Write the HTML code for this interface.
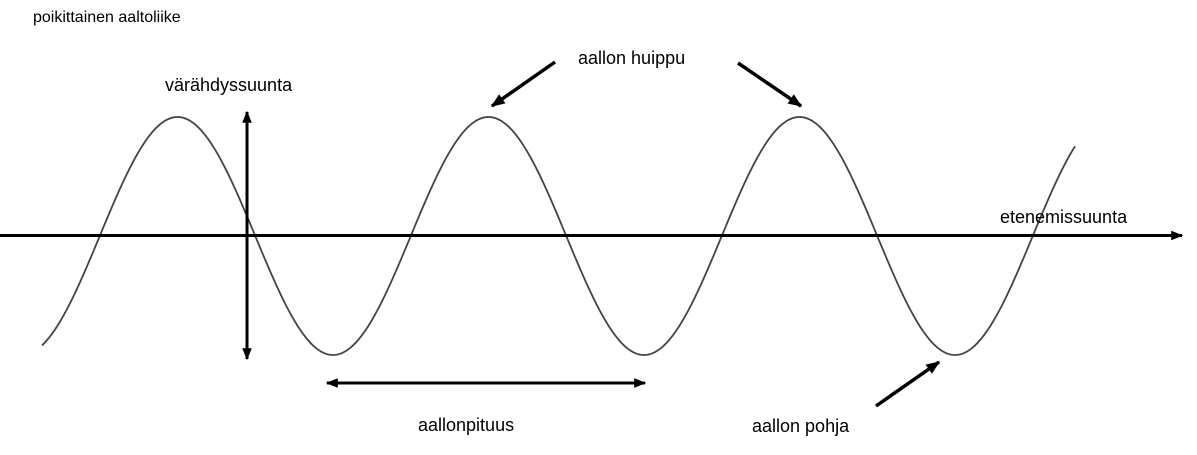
<!DOCTYPE html>
<html><head><meta charset="utf-8"><style>
html,body{margin:0;padding:0;background:#fff;}
svg{display:block}
text{font-family:"Liberation Sans",Arial,sans-serif;fill:#000}
</style></head><body>
<svg id="s" width="1197" height="455" viewBox="0 0 1197 455" xmlns="http://www.w3.org/2000/svg">
<defs>
<marker id="a" viewBox="0 0 10 10" refX="9" refY="5" markerWidth="4" markerHeight="4" orient="auto-start-reverse" markerUnits="strokeWidth"><path d="M0,1 L10,5 L0,9 z" fill="#000"/></marker>
</defs>
<path id="wave" fill="none" stroke="#444" stroke-width="1.8" d=""/>
<line x1="0" y1="235.5" x2="1182" y2="235.5" stroke="#000" stroke-width="3" marker-end="url(#a)"/>
<line x1="247" y1="112" x2="247" y2="359" stroke="#000" stroke-width="3" marker-start="url(#a)" marker-end="url(#a)"/>
<line x1="327" y1="383" x2="645" y2="383" stroke="#000" stroke-width="3" marker-start="url(#a)" marker-end="url(#a)"/>
<line x1="555" y1="62" x2="492" y2="106" stroke="#000" stroke-width="3.5" marker-end="url(#a)"/>
<line x1="738" y1="63" x2="801" y2="106" stroke="#000" stroke-width="3.5" marker-end="url(#a)"/>
<line x1="876" y1="406" x2="939" y2="362" stroke="#000" stroke-width="3.5" marker-end="url(#a)"/>
<text x="33" y="22" font-size="16">poikittainen aaltoliike</text>
<text x="165" y="91" font-size="18">värähdyssuunta</text>
<text x="578" y="64" font-size="18">aallon huippu</text>
<text x="1000" y="223" font-size="18">etenemissuunta</text>
<text x="418" y="431" font-size="18">aallonpituus</text>
<text x="752" y="432" font-size="18">aallon pohja</text>
</svg>
<script>
var d="";for(var x=42;x<=1075;x+=1){var y=236-119*Math.cos(2*Math.PI*(x-177.5)/311);d+=(x==42?"M":"L")+x+","+y.toFixed(2);}
document.getElementById("wave").setAttribute("d",d);
</script>
</body></html>
